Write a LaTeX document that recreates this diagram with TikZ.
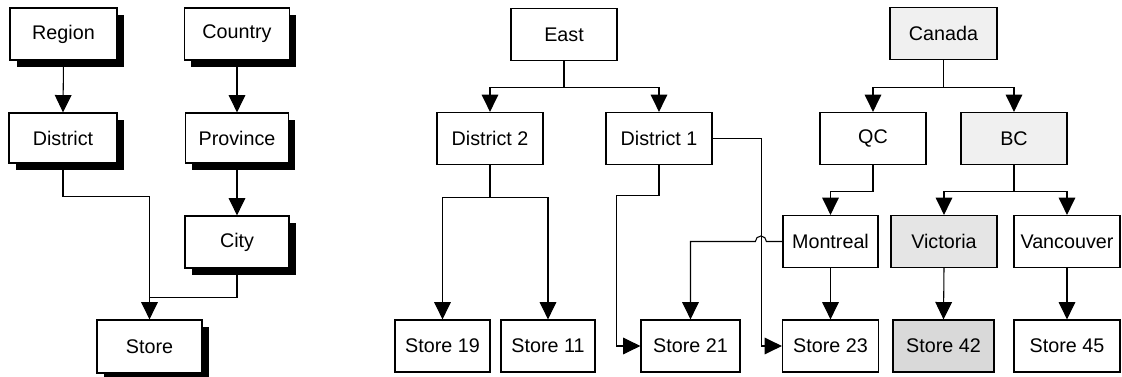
\documentclass[tikz,border=0pt]{standalone}
\usepackage{fontspec}
\setmainfont{Liberation Sans}
\usetikzlibrary{arrows.meta,shadows}
\begin{document}
\begin{tikzpicture}[x=0.75pt,y=-0.75pt,
  box/.style={draw=black,line width=0.9pt,fill=white,minimum height=52*0.75pt,inner sep=0pt,
    font=\fontsize{14.8}{16}\selectfont},
  sbox/.style={box,drop shadow={shadow xshift=5pt,shadow yshift=-5.5pt,fill=black,opacity=1}},
  conn/.style={line width=0.8pt},
  arr/.style={conn,-{Triangle[width=12.5pt,length=13pt]}},
  light/.style={fill=gray!12},
  mid/.style={fill=gray!20},
  dark/.style={fill=gray!30}]
\useasboundingbox (0,0) rectangle (1122,377);
% left hierarchy
\node[sbox,minimum width=107*0.75pt] (region) at (63.5,34) {Region};
\node[sbox,minimum width=105*0.75pt] (country) at (237,34) {Country};
\node[sbox,minimum width=108*0.75pt,minimum height=50*0.75pt] (district) at (63,138) {District};
\node[sbox,minimum width=103*0.75pt,minimum height=50*0.75pt] (province) at (237,138) {Province};
\node[sbox,minimum width=104*0.75pt] (city) at (237,242) {City};
\node[sbox,minimum width=105*0.75pt,minimum height=53*0.75pt] (store) at (149.5,346.5) {Store};
\draw[arr] (region.south) -- (district.north);
\draw[arr] (country.south) -- (province.north);
\draw[arr] (province.south) -- (city.north);
\draw[arr] (district.south) -- ++(0,33) -| (store.north);
\draw[conn] (city.south) |- ([yshift=22*0.75pt]store.north);
% middle hierarchy
\node[box,minimum width=106*0.75pt] (east) at (564,34.5) {East};
\node[box,minimum width=106*0.75pt] (d2) at (490,138.5) {District 2};
\node[box,minimum width=106*0.75pt] (d1) at (659,138.5) {District 1};
\node[box,minimum width=95*0.75pt] (s19) at (442.5,346) {Store 19};
\node[box,minimum width=94*0.75pt] (s11) at (548,346) {Store 11};
\node[box,minimum width=99*0.75pt] (s21) at (690.5,346) {Store 21};
% right hierarchy
\node[box,light,minimum width=107*0.75pt] (canada) at (943.5,33.5) {Canada};
\node[box,minimum width=106*0.75pt] (qc) at (873,138.5) {QC};
\node[box,light,minimum width=106*0.75pt] (bc) at (1014,138.5) {BC};
\node[box,minimum width=95*0.75pt] (mtl) at (830.5,241.5) {Montreal};
\node[box,mid,minimum width=106*0.75pt] (vic) at (944,241.5) {Victoria};
\node[box,minimum width=106*0.75pt] (van) at (1067,241.5) {Vancouver};
\node[box,minimum width=96*0.75pt] (s23) at (830.5,346) {Store 23};
\node[box,dark,minimum width=101*0.75pt] (s42) at (943.5,346) {Store 42};
\node[box,minimum width=106*0.75pt] (s45) at (1067,346) {Store 45};
% connectors
\draw[arr] (east.south) -- ++(0,26) -| (d2.north);
\draw[arr] (east.south) -- ++(0,26) -| (d1.north);
\draw[arr] (d2.south) -- ++(0,32) -| (s19.north);
\draw[arr] (d2.south) -- ++(0,32) -| (s11.north);
\draw[arr] (d1.south) -- ++(0,30) -| ([xshift=-24*0.75pt]s21.west) -- (s21.west);
\draw[arr] (d1.east) -| ([xshift=-20.5*0.75pt]s23.west) -- (s23.west);
\draw[arr] (mtl.west) -- ++(-16,0) arc[start angle=0,end angle=-180,radius=5.5] -| (s21.north);
\draw[arr] (canada.south) -- ++(0,27) -| (qc.north);
\draw[arr] (canada.south) -- ++(0,27) -| (bc.north);
\draw[arr] (qc.south) -- ++(0,26.5) -| (mtl.north);
\draw[arr] (bc.south) -- ++(0,26.5) -| (vic.north);
\draw[arr] (bc.south) -- ++(0,26.5) -| (van.north);
\draw[arr] (mtl.south) -- (s23.north);
\draw[arr] (vic.south) -- (s42.north);
\draw[arr] (van.south) -- (s45.north);
\end{tikzpicture}
\end{document}
